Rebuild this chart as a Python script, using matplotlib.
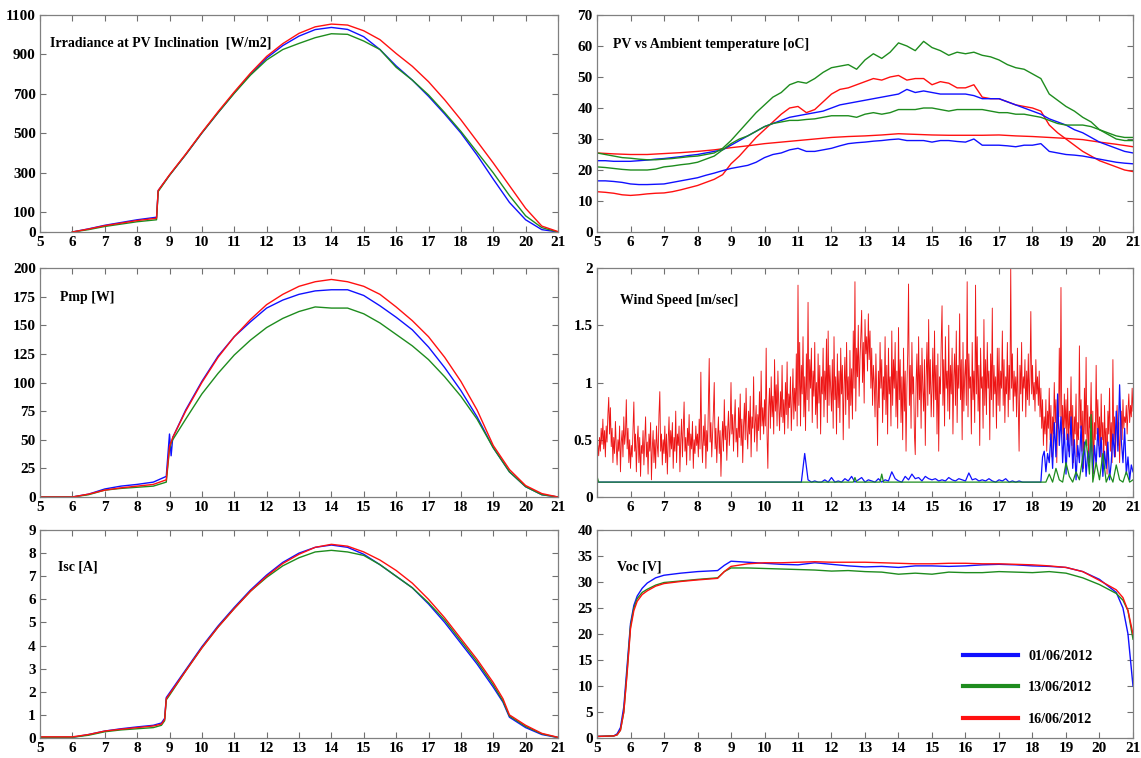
import numpy as np
import matplotlib
matplotlib.use("Agg")
from matplotlib import pyplot as plt

plt.rcParams['font.family'] = ['Liberation Serif', 'DejaVu Serif']
plt.rcParams['font.weight'] = 'bold'

dates = ["01/06/2012", "13/06/2012", "16/06/2012"]
colors = {"blue": "#1010ff", "green": "#1e8c1e", "red": "#ff1010"}

# Irradiance at PV inclination [W/m2]
irr_t = [6, 6.5, 7, 7.5, 8, 8.6, 8.65, 9, 9.5, 10, 10.5, 11, 11.5, 12, 12.5, 13, 13.5, 14,
         14.5, 15, 15.5, 16, 16.5, 17, 17.5, 18, 18.5, 19, 19.5, 20, 20.5, 21]
irr_blue = [0, 16, 34, 48, 62, 75, 210, 288, 392, 502, 605, 705, 800, 882, 945, 993, 1026, 1037,
            1027, 990, 925, 842, 770, 688, 598, 502, 390, 268, 150, 62, 12, 0]
irr_green = [0, 12, 28, 40, 52, 62, 205, 287, 392, 502, 605, 703, 795, 872, 925, 956, 985, 1005,
             1002, 968, 925, 835, 770, 695, 605, 510, 405, 300, 185, 82, 22, 0]
irr_red = [0, 15, 32, 45, 58, 70, 210, 290, 395, 505, 610, 710, 805, 890, 955, 1007, 1040, 1054,
           1049, 1020, 975, 905, 840, 762, 670, 569, 460, 350, 235, 120, 30, 2]

# PV vs ambient temperature [oC]
temp_t = np.linspace(5, 21, 65)
temp_t_amb = np.linspace(5, 21, 33)
tpv_blue = [23.0, 23.0, 22.8, 22.8, 22.8, 23.0, 23.2, 23.5, 23.7, 24.0, 24.3, 24.7,
            25.0, 25.5, 26.0, 26.5, 28.0, 29.5, 31.0, 32.5, 34.0, 35.0, 36.0, 37.0,
            37.5, 38.0, 38.5, 39.0, 40.0, 41.0, 41.5, 42.0, 42.5, 43.0, 43.5, 44.0,
            44.5, 46.0, 45.0, 45.5, 45.0, 44.5, 44.5, 44.5, 44.5, 44.0, 43.0, 43.0,
            43.0, 42.0, 41.0, 40.0, 39.0, 38.0, 36.5, 35.5, 34.5, 33.0, 32.0, 30.5,
            29.0, 28.0, 27.0, 26.0, 25.5]
tamb_blue = [16.5, 16.5, 16.3, 16.0, 15.5, 15.3, 15.3, 15.4, 15.5, 16.0, 16.5, 17.0,
             17.5, 18.3, 19.0, 19.8, 20.5, 21.0, 21.5, 22.5, 24.0, 25.0, 25.5, 26.5,
             27.0, 26.0, 26.0, 26.5, 27.0, 27.8, 28.5, 28.8, 29.0, 29.3, 29.5, 29.8,
             30.0, 29.5, 29.5, 29.5, 29.0, 29.5, 29.5, 29.2, 29.0, 30.0, 28.0, 28.0,
             28.0, 27.8, 27.5, 28.0, 28.0, 28.5, 26.0, 25.5, 25.0, 24.8, 24.5, 24.0,
             23.5, 23.0, 22.5, 22.2, 22.0]
tpv_green = [25.5, 25.0, 24.5, 24.0, 23.8, 23.5, 23.3, 23.3, 23.5, 23.7, 24.0, 24.3,
             24.5, 25.0, 25.5, 27.0, 29.5, 32.5, 35.5, 38.5, 41.0, 43.5, 45.0, 47.5,
             48.5, 48.0, 49.5, 51.5, 53.0, 53.5, 54.0, 52.5, 55.5, 57.5, 56.0, 58.0,
             61.0, 60.0, 58.5, 61.5, 59.5, 58.5, 57.0, 58.0, 57.5, 58.0, 57.0, 56.5,
             55.5, 54.0, 53.0, 52.5, 51.0, 49.5, 44.5, 42.5, 40.5, 39.0, 37.0, 35.5,
             33.0, 32.0, 31.0, 30.5, 30.5]
tamb_green = [21.0, 20.8, 20.5, 20.2, 20.0, 20.0, 20.0, 20.3, 21.0, 21.3, 21.7, 22.0,
              22.5, 23.5, 24.5, 26.5, 28.5, 30.0, 31.0, 32.5, 34.0, 35.0, 35.5, 36.0,
              36.0, 36.3, 36.5, 37.0, 37.5, 37.5, 37.5, 37.0, 38.0, 38.5, 38.0, 38.5,
              39.5, 39.5, 39.5, 40.0, 40.0, 39.5, 39.0, 39.5, 39.5, 39.5, 39.5, 39.0,
              38.5, 38.5, 38.0, 38.0, 37.5, 37.0, 36.0, 35.0, 34.5, 34.5, 34.5, 34.0,
              33.0, 31.5, 30.0, 29.5, 29.5]
tpv_red = [13.0, 12.8, 12.5, 12.0, 11.8, 12.0, 12.3, 12.5, 12.6, 13.0, 13.6, 14.3,
           15.0, 16.0, 17.0, 18.5, 22.0, 24.5, 27.5, 30.5, 33.0, 35.5, 38.0, 40.0,
           40.5, 38.5, 39.5, 42.0, 44.5, 46.0, 46.5, 47.5, 48.5, 49.5, 49.0, 50.0,
           50.5, 49.0, 49.5, 49.5, 47.5, 48.5, 48.0, 46.5, 46.5, 47.5, 43.5, 43.0,
           43.0, 42.0, 41.0, 40.5, 40.0, 39.0, 34.5, 32.0, 30.0, 28.0, 26.0, 24.5,
           23.0, 22.0, 21.0, 20.0, 19.5]
tamb_red = [25.5, 25.2, 25.0, 25.0, 25.3, 25.6, 26.0, 26.5, 27.2, 27.8, 28.5, 29.0,
            29.5, 30.0, 30.5, 30.8, 31.0, 31.3, 31.7, 31.5, 31.3, 31.2, 31.2, 31.2,
            31.3, 31.0, 30.8, 30.5, 30.2, 29.8, 29.0, 28.3, 27.5]

# Pmp [W]
pmp_t = [5, 5.5, 6, 6.5, 7, 7.5, 8, 8.5, 8.9, 9.0, 9.05, 9.1, 9.5, 10, 10.5, 11, 11.5, 12,
         12.5, 13, 13.5, 14, 14.5, 15, 15.5, 16, 16.5, 17, 17.5, 18, 18.5, 19, 19.5, 20, 20.5, 21]
pmp_blue = [0, 0, 0, 2.5, 7, 9.5, 11, 13, 18, 55, 36, 52, 76, 101, 123, 140, 153, 165,
            172, 177, 180, 181, 181, 176, 167, 157, 146, 131, 113, 93, 70, 43, 22, 9, 2, 0]
pmp_green = [0, 0, 0, 2, 6, 7.5, 8.5, 9.5, 13, 42, 47, 50, 68, 90, 108, 124, 137, 148,
             156, 162, 166, 165, 165, 160, 152, 142, 132, 120, 105, 88, 68, 43, 22, 9, 2, 0]
pmp_red = [0, 0, 0, 2.5, 6, 8, 9.5, 11, 15, 44, 48, 52, 75, 100, 122, 140, 155, 168,
           177, 184, 188, 190, 188, 184, 177, 166, 154, 140, 122, 101, 76, 45, 24, 10, 3, 0]

# Wind speed [m/sec], red sampled every 1.5 min (two rows = one hour)
wind_t_red = np.linspace(5, 21, 641)
wind_red = [
    0.30, 0.45, 0.36, 0.52, 0.40, 0.60, 0.46, 0.68, 0.42, 0.58, 0.35, 0.62, 0.48, 0.72, 0.87, 0.55, 0.78, 0.44, 0.60, 0.30,
    0.52, 0.38, 0.66, 0.45, 0.28, 0.50, 0.40, 0.62, 0.22, 0.48, 0.58, 0.35, 0.70, 0.46, 0.55, 0.85, 0.42, 0.60, 0.30, 0.50,
    0.25, 0.45, 0.35, 0.60, 0.83, 0.40, 0.55, 0.22, 0.48, 0.62, 0.30, 0.52, 0.18, 0.45, 0.38, 0.58, 0.28, 0.50, 0.70, 0.35,
    0.48, 0.20, 0.55, 0.40, 0.65, 0.15, 0.42, 0.58, 0.30, 0.50, 0.25, 0.62, 0.45, 0.35, 0.72, 0.92, 0.40, 0.55, 0.28, 0.50,
    0.38, 0.62, 0.30, 0.55, 0.20, 0.48, 0.70, 0.35, 0.58, 0.42, 0.65, 0.25, 0.52, 0.40, 0.75, 0.30, 0.55, 0.45, 0.62, 0.22,
    0.50, 0.68, 0.35, 0.58, 0.83, 0.40, 0.52, 0.28, 0.60, 0.45, 0.72, 0.32, 0.55, 0.42, 0.66, 0.25, 0.50, 0.38, 0.62, 0.45,
    0.55, 0.35, 0.68, 0.42, 1.09, 0.50, 0.30, 0.62, 0.45, 0.72, 0.25, 0.58, 0.40, 0.80, 1.21, 0.48, 0.65, 0.35, 0.55, 0.75,
    1.00, 0.42, 0.60, 0.30, 0.52, 0.70, 0.38, 0.58, 0.18, 0.48, 0.66, 0.40, 0.85, 0.50, 0.62, 0.32, 0.58, 0.75, 0.45, 0.60,
    1.00, 0.55, 0.72, 0.40, 0.65, 0.85, 0.48, 0.60, 0.35, 0.78, 0.52, 0.90, 0.45, 0.68, 0.30, 0.62, 0.82, 0.50, 0.95, 0.58,
    0.42, 0.75, 0.55, 0.88, 0.35, 0.70, 0.60, 1.05, 0.48, 0.65, 0.80, 0.40, 0.72, 0.58, 0.92, 0.50, 1.10, 0.62, 0.78, 0.55,
    0.85, 0.62, 1.30, 0.55, 0.25, 0.78, 0.95, 0.60, 1.05, 0.70, 0.88, 0.55, 1.20, 0.75, 0.98, 0.62, 1.10, 0.80, 0.58, 0.92,
    0.70, 1.15, 0.65, 0.85, 0.55, 1.00, 0.72, 1.18, 0.60, 0.90, 0.78, 1.05, 0.58, 0.82, 1.12, 0.68, 0.95, 0.75, 1.25, 0.62,
    1.85, 0.80, 1.35, 0.62, 1.15, 0.90, 1.40, 0.70, 1.05, 0.58, 1.25, 0.85, 1.70, 0.75, 1.20, 0.95, 1.30, 0.65, 1.10, 0.88,
    1.35, 0.72, 1.00, 0.60, 1.25, 0.82, 1.15, 0.55, 1.05, 0.90, 1.30, 0.70, 1.10, 0.85, 1.38, 0.65, 1.45, 0.80, 1.15, 0.95,
    0.75, 1.20, 0.60, 1.40, 0.85, 1.05, 0.55, 1.25, 0.78, 1.10, 0.65, 1.30, 0.90, 1.15, 0.50, 0.98, 1.22, 0.72, 1.35, 0.85,
    1.05, 0.60, 1.28, 0.80, 1.12, 0.68, 1.45, 0.95, 1.88, 0.75, 1.30, 1.05, 1.50, 0.88, 1.20, 1.40, 1.63, 1.00, 1.35, 0.82,
    1.55, 1.25, 1.40, 1.10, 1.60, 1.20, 1.45, 0.95, 1.30, 0.80, 1.15, 1.00, 0.70, 1.25, 0.90, 0.45, 1.10, 0.78, 1.35, 0.95,
    1.20, 0.65, 1.05, 0.85, 1.40, 0.72, 1.15, 0.55, 1.30, 0.90, 1.05, 0.62, 1.45, 0.80, 1.20, 0.95, 1.35, 0.70, 1.10, 0.60,
    1.48, 0.85, 1.20, 0.65, 1.05, 0.50, 1.30, 0.75, 1.10, 0.40, 0.95, 1.25, 1.86, 0.80, 1.15, 0.60, 1.35, 0.90, 1.05, 0.55,
    0.37, 1.00, 1.25, 0.70, 1.40, 0.85, 1.15, 0.60, 1.30, 0.95, 0.75, 1.20, 0.45, 1.05, 1.35, 0.80, 1.55, 0.90, 1.20, 0.70,
    0.95, 1.30, 0.70, 1.45, 0.85, 1.15, 0.55, 1.25, 0.40, 1.05, 0.90, 1.35, 1.67, 0.80, 1.20, 0.62, 1.40, 0.95, 1.10, 0.75,
    1.50, 0.68, 1.15, 0.90, 1.30, 0.55, 1.05, 1.25, 0.80, 1.45, 0.65, 1.15, 0.95, 1.60, 0.85, 1.20, 0.50, 1.35, 0.75, 1.05,
    1.20, 0.80, 1.88, 0.70, 1.25, 0.95, 1.05, 0.55, 1.35, 0.85, 1.10, 0.65, 1.85, 0.90, 1.40, 0.75, 1.15, 0.45, 1.30, 0.95,
    1.05, 0.60, 1.55, 0.80, 1.20, 0.72, 1.35, 0.95, 1.10, 0.50, 1.25, 0.85, 1.65, 0.70, 1.15, 0.90, 1.05, 0.60, 1.30, 0.80,
    1.30, 0.75, 1.10, 0.95, 1.45, 0.80, 1.20, 0.65, 1.05, 0.90, 1.35, 0.70, 1.15, 0.85, 2.00, 0.95, 1.25, 0.75, 1.10, 0.88,
    1.05, 0.70, 1.30, 0.80, 0.40, 1.15, 0.90, 1.35, 0.75, 1.05, 0.95, 1.20, 0.70, 1.10, 0.85, 1.25, 0.80, 1.05, 1.62, 0.90,
    1.15, 0.85, 1.00, 0.75, 1.20, 0.90, 1.05, 0.80, 1.10, 0.70, 0.95, 0.60, 0.85, 0.45, 0.70, 0.55, 0.85, 0.40, 0.75, 0.60,
    0.95, 0.50, 0.80, 0.35, 0.70, 0.55, 1.00, 0.65, 0.85, 0.30, 0.75, 0.60, 1.30, 0.70, 1.83, 0.55, 0.80, 0.45, 0.90, 0.60,
    0.85, 0.50, 0.95, 0.40, 0.75, 0.60, 1.05, 0.45, 0.80, 0.30, 0.70, 0.55, 0.90, 0.35, 0.65, 0.50, 1.32, 0.60, 0.85, 0.40,
    0.75, 0.25, 0.95, 0.55, 1.22, 0.45, 0.80, 0.30, 0.70, 0.60, 1.00, 0.40, 0.75, 0.20, 0.65, 0.50, 1.15, 0.55, 0.85, 0.45,
    0.70, 0.35, 0.90, 0.50, 0.65, 0.25, 0.80, 0.45, 0.60, 0.20, 0.75, 0.55, 0.95, 0.40, 0.65, 0.30, 1.20, 0.50, 0.70, 0.35,
    0.60, 0.80, 0.45, 0.65, 0.30, 0.55, 0.75, 0.50, 0.85, 0.60, 0.70, 0.65, 0.80, 0.55, 0.75, 0.90, 0.65, 0.80, 0.70, 0.95,
    0.75]
wind_t_blue = np.concatenate([[5.0], np.linspace(11, 18.1, 72), np.linspace(18.2, 21, 57)])
wind_blue = [0.13,
             0.13, 0.13, 0.38, 0.15, 0.13, 0.14, 0.13, 0.13, 0.15, 0.13,
             0.17, 0.13, 0.14, 0.13, 0.16, 0.14, 0.18, 0.13, 0.15, 0.17,
             0.13, 0.15, 0.14, 0.13, 0.16, 0.13, 0.15, 0.14, 0.22, 0.16,
             0.14, 0.13, 0.18, 0.15, 0.20, 0.16, 0.17, 0.14, 0.18, 0.16,
             0.15, 0.16, 0.14, 0.15, 0.14, 0.17, 0.15, 0.14, 0.16, 0.15,
             0.14, 0.21, 0.15, 0.16, 0.14, 0.15, 0.14, 0.16, 0.14, 0.13,
             0.15, 0.14, 0.16, 0.13, 0.14, 0.13, 0.14, 0.13, 0.13, 0.13,
             0.13, 0.13,
             0.13, 0.13, 0.35, 0.40, 0.22, 0.38, 0.30, 0.55, 0.25, 0.65,
             0.35, 0.90, 0.45, 0.70, 0.30, 0.60, 0.20, 0.55, 0.35, 0.70,
             0.25, 0.50, 0.15, 0.45, 0.30, 0.62, 0.22, 0.48, 0.18, 0.40,
             0.30, 0.55, 0.20, 0.45, 0.28, 0.60, 0.35, 0.52, 0.18, 0.40,
             0.25, 0.48, 0.15, 0.30, 0.55, 0.35, 0.75, 0.40, 0.98, 0.50,
             0.30, 0.60, 0.20, 0.35, 0.15, 0.28, 0.22]
wind_t_green = [5.0, 5.05, 12.65, 12.7, 12.75, 13.45, 13.5, 13.55, 18.4, 18.5, 18.6, 18.7, 18.8,
                18.9, 19.0, 19.1, 19.2, 19.3, 19.4, 19.5, 19.6, 19.7, 19.75, 19.8, 19.9, 20.0, 20.1,
                20.2, 20.3, 20.4, 20.5, 20.6, 20.7, 20.8, 20.9, 21.0]
wind_green = [0.18, 0.13, 0.13, 0.17, 0.13, 0.13, 0.20, 0.13, 0.13, 0.20, 0.13, 0.25, 0.15,
              0.13, 0.30, 0.18, 0.13, 0.22, 0.15, 0.35, 0.50, 0.20, 0.72, 0.13, 0.30, 0.15, 0.38,
              0.13, 0.20, 0.13, 0.28, 0.15, 0.13, 0.22, 0.13, 0.15]

# Isc [A]
isc_t = [5, 5.5, 6, 6.5, 7, 7.5, 8, 8.5, 8.75, 8.85, 8.9, 9, 9.5, 10, 10.5, 11, 11.5, 12, 12.5,
         13, 13.5, 14, 14.5, 15, 15.5, 16, 16.5, 17, 17.5, 18, 18.5, 19, 19.3, 19.5, 20, 20.5, 21]
isc_blue = [0.03, 0.03, 0.03, 0.15, 0.3, 0.4, 0.48, 0.55, 0.65, 0.85, 1.75, 1.95, 2.95, 3.95,
            4.85, 5.65, 6.4, 7.05, 7.6, 8.0, 8.25, 8.35, 8.25, 7.95, 7.5, 7.0, 6.5, 5.8, 5.0,
            4.1, 3.2, 2.2, 1.55, 0.9, 0.45, 0.15, 0.02]
isc_green = [0.03, 0.03, 0.03, 0.12, 0.27, 0.35, 0.4, 0.45, 0.55, 0.75, 1.65, 1.85, 2.9, 3.9,
             4.8, 5.6, 6.35, 6.95, 7.45, 7.8, 8.05, 8.12, 8.05, 7.9, 7.5, 7.0, 6.5, 5.85, 5.1,
             4.2, 3.3, 2.3, 1.6, 0.95, 0.5, 0.18, 0.02]
isc_red = [0.05, 0.05, 0.05, 0.15, 0.3, 0.38, 0.45, 0.52, 0.6, 0.8, 1.7, 1.9, 2.9, 3.9,
           4.8, 5.6, 6.35, 7.0, 7.55, 7.95, 8.25, 8.38, 8.3, 8.05, 7.7, 7.25, 6.7, 6.0, 5.2,
           4.3, 3.4, 2.4, 1.7, 1.0, 0.55, 0.2, 0.03]

# Voc [V]
voc_t = [5, 5.5, 5.6, 5.7, 5.8, 5.9, 6.0, 6.1, 6.2, 6.35, 6.5, 6.75, 7, 7.5, 8, 8.6, 8.8, 9,
         9.5, 10, 10.5, 11, 11.5, 12, 12.5, 13, 13.5, 14, 14.5, 15, 15.5, 16, 16.5, 17, 17.5,
         18, 18.5, 19, 19.5, 20, 20.5, 20.7, 20.85, 21]
voc_blue = [0.3, 0.4, 0.8, 2.0, 6, 14, 22, 25.5, 27.3, 28.8, 29.8, 30.8, 31.3, 31.7, 32.0,
            32.2, 33.2, 34.0, 33.8, 33.6, 33.4, 33.3, 33.7, 33.4, 33.1, 32.9, 33.0, 32.8, 33.1,
            33.1, 33.0, 33.1, 33.3, 33.4, 33.3, 33.1, 33.0, 32.8, 32.0, 30.5, 28.0, 25.0, 20.0, 10.0]
voc_green = [0.3, 0.4, 0.6, 1.5, 5, 13, 21.5, 25, 26.8, 28.0, 28.6, 29.4, 29.9, 30.2, 30.5,
             30.8, 32.0, 32.7, 32.7, 32.6, 32.5, 32.4, 32.3, 32.1, 32.2, 32.0, 31.9, 31.5, 31.7,
             31.5, 31.9, 31.8, 31.8, 32.0, 31.9, 31.8, 32.0, 31.7, 30.8, 29.5, 27.8, 26.5, 24.5, 19.0]
voc_red = [0.3, 0.4, 0.6, 1.5, 5, 12.5, 21, 24.5, 26.3, 27.6, 28.3, 29.2, 29.7, 30.1, 30.4,
           30.7, 32.0, 33.0, 33.5, 33.7, 33.7, 33.8, 33.9, 33.8, 33.8, 33.8, 33.7, 33.6, 33.5,
           33.5, 33.6, 33.6, 33.5, 33.5, 33.4, 33.3, 33.1, 32.8, 32.0, 30.3, 28.5, 27.0, 24.5, 20.0]

fig = plt.figure(figsize=(11.41, 7.58), dpi=100)
lx, lw = 40 / 1141, 518 / 1141
rx, rw = 597 / 1141, 536 / 1141
rows = [(1 - 232 / 758, 217 / 758), (1 - 497 / 758, 229 / 758), (1 - 738 / 758, 208 / 758)]

ax_irr = fig.add_axes([lx, rows[0][0], lw, rows[0][1]])
ax_tmp = fig.add_axes([rx, rows[0][0], rw, rows[0][1]])
ax_pmp = fig.add_axes([lx, rows[1][0], lw, rows[1][1]])
ax_wnd = fig.add_axes([rx, rows[1][0], rw, rows[1][1]])
ax_isc = fig.add_axes([lx, rows[2][0], lw, rows[2][1]])
ax_voc = fig.add_axes([rx, rows[2][0], rw, rows[2][1]])

lwid = 1.0
for ax, t, b, g, r in [(ax_irr, irr_t, irr_blue, irr_green, irr_red),
                       (ax_pmp, pmp_t, pmp_blue, pmp_green, pmp_red),
                       (ax_isc, isc_t, isc_blue, isc_green, isc_red),
                       (ax_voc, voc_t, voc_blue, voc_green, voc_red)]:
    ax.plot(t, b, color=colors["blue"], lw=lwid)
    ax.plot(t, g, color=colors["green"], lw=lwid)
    ax.plot(t, r, color=colors["red"], lw=lwid)

ax_tmp.plot(temp_t_amb, tamb_red, color=colors["red"], lw=lwid)
ax_tmp.plot(temp_t, tpv_red, color=colors["red"], lw=lwid)
ax_tmp.plot(temp_t, tamb_blue, color=colors["blue"], lw=lwid)
ax_tmp.plot(temp_t, tpv_blue, color=colors["blue"], lw=lwid)
ax_tmp.plot(temp_t, tamb_green, color=colors["green"], lw=lwid)
ax_tmp.plot(temp_t, tpv_green, color=colors["green"], lw=lwid)

ax_wnd.plot(wind_t_red, wind_red, color="#ee1515", lw=0.65)
ax_wnd.plot(wind_t_blue, wind_blue, color=colors["blue"], lw=0.9)
ax_wnd.plot(wind_t_green, wind_green, color=colors["green"], lw=0.9)

settings = [
    (ax_irr, (0, 1100), [0, 100, 300, 500, 700, 900, 1100], "Irradiance at PV Inclination  [W/m2]", (0.019, 0.87)),
    (ax_tmp, (0, 70), list(range(0, 71, 10)), "PV vs Ambient temperature [oC]", (0.03, 0.865)),
    (ax_pmp, (0, 200), list(range(0, 201, 25)), "Pmp [W]", (0.039, 0.87)),
    (ax_wnd, (0, 2), [0, 0.5, 1, 1.5, 2], "Wind Speed [m/sec]", (0.043, 0.86)),
    (ax_isc, (0, 9), list(range(0, 10)), "Isc [A]", (0.035, 0.82)),
    (ax_voc, (0, 40), list(range(0, 41, 5)), "Voc [V]", (0.037, 0.82)),
]
for ax, ylim, yt, title, pos in settings:
    ax.set_xlim(5, 21)
    ax.set_ylim(*ylim)
    ax.set_xticks(range(5, 22))
    ax.set_yticks(yt)
    ax.set_yticklabels([f"{v:g}" for v in yt])
    ax.tick_params(direction="in", top=True, right=True, length=4, width=0.8,
                   color="#707070", labelsize=11, pad=3)
    for s in ax.spines.values():
        s.set_color("#808080")
        s.set_linewidth(0.9)
    ax.text(pos[0], pos[1], title, transform=ax.transAxes, fontsize=10,
            fontweight="bold", va="center", ha="left")
    for lab in ax.get_xticklabels() + ax.get_yticklabels():
        lab.set_fontweight("bold")

ax_wnd.set_xticklabels([""] + [str(v) for v in range(6, 22)])

handles = [plt.Line2D([], [], color=colors[c], lw=3) for c in ["blue", "green", "red"]]
ax_voc.legend(handles, dates, loc="lower left", bbox_to_anchor=(0.683, 0.06), frameon=False,
              handlelength=3.9, labelspacing=1.3, borderpad=0, borderaxespad=0, handletextpad=0.7,
              prop={"family": "Liberation Serif", "weight": "bold", "size": 10.2})

fig.savefig("out.png", dpi=100)
